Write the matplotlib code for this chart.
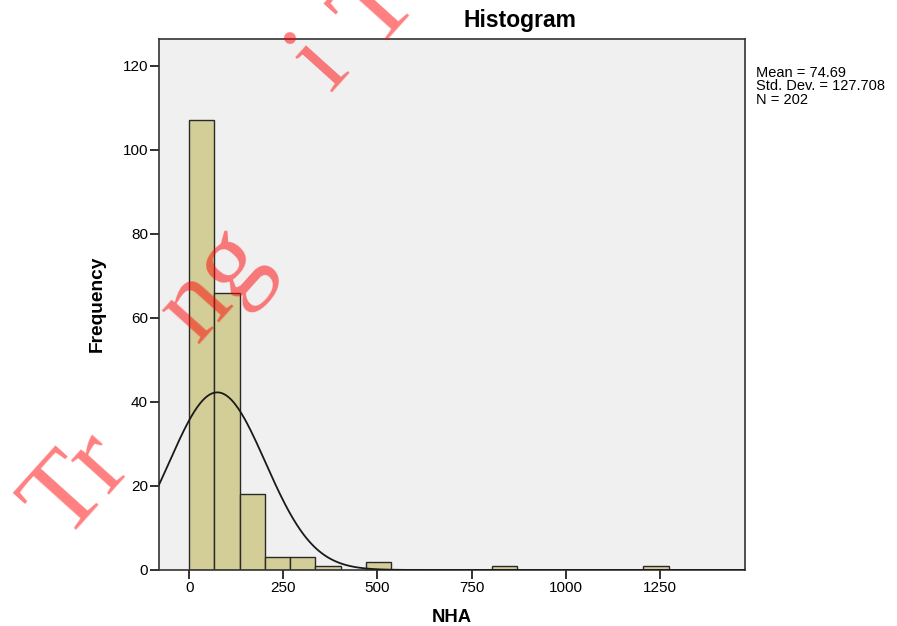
import numpy as np
import matplotlib
matplotlib.use("Agg")
import matplotlib.pyplot as plt

# histogram of NHA (bin width ~67)
bin_width = 67.0
counts = [107, 66, 18, 3, 3, 1, 0, 2, 0, 0, 0, 0, 1, 0, 0, 0, 0, 0, 1, 0]
mean, std, n = 74.69, 127.708, 202
xticks = [0, 250, 500, 750, 1000, 1250]
yticks = [0, 20, 40, 60, 80, 100, 120]

plt.rcParams['font.family'] = ['Liberation Sans', 'DejaVu Sans']

fig = plt.figure(figsize=(8.97, 6.26), dpi=100)
ax = fig.add_axes([0.1773, 0.0895, 0.6532, 0.8482])
ax.set_facecolor('#F0F0F0')

lefts = np.arange(len(counts)) * bin_width
counts = np.array(counts)
nz = counts > 0
ax.bar(lefts[nz], counts[nz], width=bin_width, align='edge',
       color='#D3CE97', edgecolor='#2a2a2a', linewidth=1.0, zorder=2)

# normal curve scaled to counts
xs = np.linspace(-80, 1476, 600)
ys = n * bin_width / (std * np.sqrt(2 * np.pi)) * np.exp(-0.5 * ((xs - mean) / std) ** 2)
ax.plot(xs, ys, color='#1a1a1a', lw=1.3, zorder=3)

ax.set_xlim(-80, 1476)
ax.set_ylim(0, 126.4)
ax.set_xticks(xticks)
ax.set_yticks(yticks)
ax.tick_params(direction='out', length=6.5, width=1.3, labelsize=11, pad=1.5, color='#222222')
for s in ax.spines.values():
    s.set_color('#333333')
    s.set_linewidth(1.2)

W, H = 897, 626
fig.text(520 / W, 1 - 21 / H, 'Histogram', fontsize=16.5, fontweight='bold', ha='center', va='center')
fig.text(452 / W, 1 - 618 / H, 'NHA', fontsize=13.3, fontweight='bold', ha='center', va='center')
fig.text(97 / W, 1 - 304 / H, 'Frequency', fontsize=13.8, fontweight='bold',
         rotation=90, ha='center', va='center')

fig.text(756 / W, 1 - 66 / H, 'Mean = 74.69\nStd. Dev. = 127.708\nN = 202',
         fontsize=10.5, va='top', ha='left', linespacing=0.95)

# watermark
wm = dict(color='red', alpha=0.5, fontsize=80, family='Liberation Serif',
          rotation=48, ha='center', va='center', zorder=10)
fig.text(78 / W, 1 - 485 / H, 'Tr', **wm)
fig.text(215 / W, 1 - 285 / H, 'ng', **wm)
fig.text(320 / W, 1 - 62 / H, 'i', **wm)
fig.text(378 / W, 1 - 8 / H, 'T', **wm)

fig.savefig('out.png', dpi=100)
